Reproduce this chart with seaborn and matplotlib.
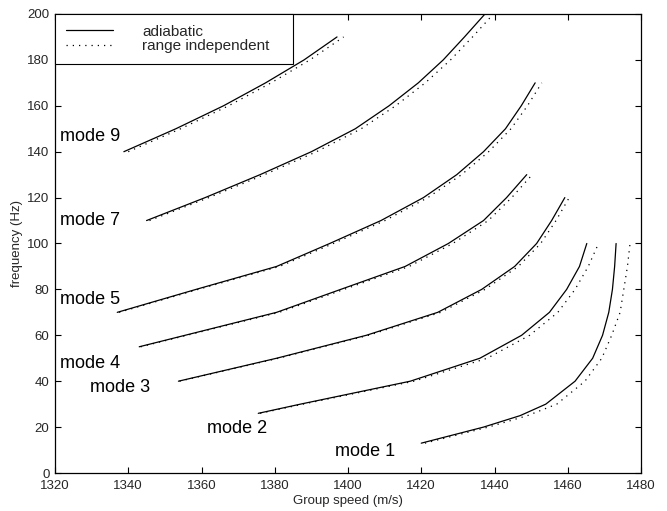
import matplotlib
matplotlib.use("Agg")
import matplotlib.pyplot as plt
from matplotlib.lines import Line2D
import numpy as np
import pandas as pd
import seaborn as sns

# Group speed (m/s) versus frequency (Hz) for each mode,
# adiabatic solution and range-independent solution.
mode1_freq = [13, 20, 25, 30, 40, 50, 60, 70, 80, 90, 100]
mode1_adiabatic = [1420, 1437, 1447, 1454, 1462, 1466.8, 1469.5, 1471.2, 1472.2, 1472.8, 1473.2]
mode1_range_indep = [1421, 1438.3, 1449, 1457, 1464.7, 1469.3, 1472, 1474.3, 1475.3, 1476.3, 1477]

mode2_freq = [26, 30, 40, 50, 60, 70, 80, 90, 100]
mode2_adiabatic = [1375.5, 1387, 1417, 1436, 1447.4, 1455, 1459.7, 1463.2, 1465.2]
mode2_range_indep = [1376, 1387.7, 1418, 1438, 1449.6, 1457.3, 1462, 1465.6, 1468.4]

mode3_freq = [40, 50, 60, 70, 80, 90, 100, 110, 120]
mode3_adiabatic = [1353.7, 1380.5, 1405, 1424.5, 1436.5, 1445.5, 1451.5, 1455.6, 1459.2]
mode3_range_indep = [1354, 1381, 1405.6, 1425.3, 1437.4, 1446.5, 1452.6, 1456.8, 1460.4]

mode4_freq = [55, 60, 70, 80, 90, 100, 110, 120, 130]
mode4_adiabatic = [1343, 1355.5, 1380.5, 1398, 1415.6, 1427.4, 1437, 1443.3, 1448.8]
mode4_range_indep = [1343.4, 1356, 1381.2, 1398.9, 1416.7, 1428.6, 1438.3, 1444.7, 1450.3]

mode5_freq = [70, 80, 90, 100, 110, 120, 130, 140, 150, 160, 170]
mode5_adiabatic = [1337, 1358.5, 1380.5, 1395, 1409, 1420.6, 1429.7, 1437, 1443, 1447.3, 1451.1]
mode5_range_indep = [1337.5, 1359.1, 1381.3, 1396, 1410.1, 1421.8, 1431, 1438.4, 1444.5, 1449, 1452.9]

mode7_freq = [110, 120, 130, 140, 150, 160, 170, 180, 190, 200]
mode7_adiabatic = [1345, 1361, 1376, 1390, 1402, 1411.2, 1419.2, 1426, 1431.8, 1437.4]
mode7_range_indep = [1345.8, 1362, 1377.2, 1391.4, 1403.6, 1413, 1421.1, 1428, 1434, 1439.7]

mode9_freq = [140, 150, 160, 170, 180, 190]
mode9_adiabatic = [1338.8, 1353, 1366, 1377.5, 1388, 1397]
mode9_range_indep = [1340, 1354.3, 1367.4, 1379, 1389.6, 1398.8]

mode_names = ["mode 1", "mode 2", "mode 3", "mode 4", "mode 5", "mode 7", "mode 9"]
label_speed = [1396.5, 1361.6, 1329.6, 1321.4, 1321.4, 1321.4, 1321.4]
label_freq = [9.3, 19.2, 37.2, 47.5, 75.4, 110.2, 146.5]

model_names = ["adiabatic", "range independent"]
x_ticks = [1320, 1340, 1360, 1380, 1400, 1420, 1440, 1460, 1480]
y_ticks = [0, 20, 40, 60, 80, 100, 120, 140, 160, 180, 200]

modes = [
    ("mode 1", mode1_freq, mode1_adiabatic, mode1_range_indep),
    ("mode 2", mode2_freq, mode2_adiabatic, mode2_range_indep),
    ("mode 3", mode3_freq, mode3_adiabatic, mode3_range_indep),
    ("mode 4", mode4_freq, mode4_adiabatic, mode4_range_indep),
    ("mode 5", mode5_freq, mode5_adiabatic, mode5_range_indep),
    ("mode 7", mode7_freq, mode7_adiabatic, mode7_range_indep),
    ("mode 9", mode9_freq, mode9_adiabatic, mode9_range_indep),
]

rows = []
for name, freq, adia, rind in modes:
    for f, v in zip(freq, adia):
        rows.append({"mode": name, "model": model_names[0], "speed": v, "freq": f})
    for f, v in zip(freq, rind):
        rows.append({"mode": name, "model": model_names[1], "speed": v, "freq": f})
df = pd.DataFrame(rows)

sns.set_style("ticks")
plt.rcParams["font.family"] = ["Liberation Sans", "DejaVu Sans"]
plt.rcParams["xtick.direction"] = "in"
plt.rcParams["ytick.direction"] = "in"

fig = plt.figure(figsize=(6.67, 5.11), dpi=100)
ax = fig.add_axes([55 / 667, 38 / 511, 586 / 667, 459 / 511])

dot_pattern = (1, 4)
sns.lineplot(
    data=df, x="speed", y="freq", units="mode", style="model",
    dashes={model_names[0]: "", model_names[1]: dot_pattern},
    estimator=None, sort=False, color="black", linewidth=0.9,
    legend=False, ax=ax,
)

for name, xs, ys in zip(mode_names, label_speed, label_freq):
    ax.text(xs, ys, name, fontsize=13, ha="left", va="center", color="black")

ax.set_xlim(1320, 1480)
ax.set_ylim(0, 200)
ax.set_xticks(x_ticks)
ax.set_yticks(y_ticks)
ax.tick_params(which="both", top=True, right=True, length=4, width=0.8,
               labelsize=9.5, color="black")
ax.tick_params(axis="x", pad=5)
ax.tick_params(axis="y", pad=4)
for spine in ax.spines.values():
    spine.set_visible(True)
    spine.set_linewidth(0.9)
    spine.set_color("black")

ax.set_xlabel("Group speed (m/s)", fontsize=9.5, labelpad=2)
ax.set_ylabel("frequency (Hz)", fontsize=9.5, labelpad=3)

handles = [
    Line2D([], [], color="black", linewidth=0.9, linestyle="-"),
    Line2D([], [], color="black", linewidth=0.9, linestyle=(0, dot_pattern)),
]
leg = ax.legend(
    handles, model_names, loc="upper left",
    bbox_to_anchor=(0, 1, 238 / 586, 0), mode="expand",
    borderaxespad=0, fontsize=11, frameon=True, fancybox=False,
    handlelength=3.1, handletextpad=1.9, borderpad=0.7, labelspacing=0.05,
)
leg.get_frame().set_edgecolor("black")
leg.get_frame().set_linewidth(0.8)
leg.get_frame().set_alpha(1)

fig.savefig("out.png", dpi=100)
